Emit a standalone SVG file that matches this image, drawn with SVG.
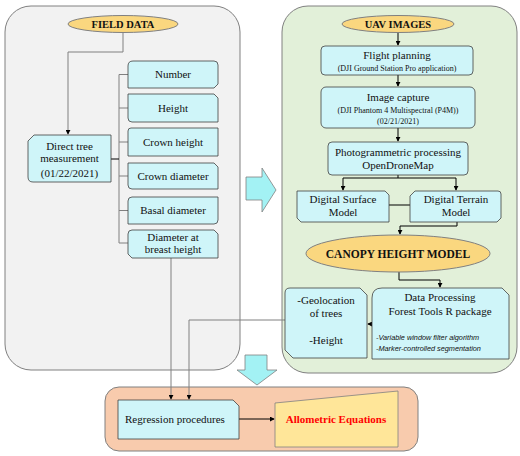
<svg xmlns="http://www.w3.org/2000/svg" width="520" height="456" viewBox="0 0 520 456">
<defs>
<marker id="ah" viewBox="0 0 6 6" refX="5" refY="3" markerWidth="5" markerHeight="5" orient="auto"><path d="M0,0 L6,3 L0,6 z" fill="#000"/></marker>
<style>
.panel{stroke:#808080;stroke-width:1}
.box{fill:#CFF5F9;stroke:#404040;stroke-width:0.8}
.ell{fill:#FAD77F;stroke:#808080;stroke-width:1}
.blk{fill:#A3F2F4;stroke:#808080;stroke-width:0.8}
.ln{fill:none;stroke:#808080;stroke-width:1}
.lk{fill:none;stroke:#000;stroke-width:1}
text{fill:#111;text-anchor:middle}
.t{font-size:11px}
.s{font-size:8px}
.b{font-weight:bold}
.i{font-style:italic;font-size:7.3px;text-anchor:start}
</style>
</defs>
<rect x="5" y="6" width="235" height="364" rx="26" class="panel" fill="#F2F2F2"/>
<rect x="282" y="6" width="235" height="367" rx="26" class="panel" fill="#E2F0D9"/>
<rect x="105" y="387" width="313" height="64" rx="14" class="panel" fill="#F8CBAD"/>
<path class="blk" d="M246,177 L262,177 L262,168 L276,190 L262,212 L262,200 L246,200 Z"/>
<path class="blk" d="M245,355 L267,355 L267,370 L277,370 L257,385 L237,370 L245,370 Z"/>
<g id="connectors">
<path class="ln" d="M123,33 V52 H68 V134" marker-end="url(#ah)"/>
<path class="ln" d="M119,74.5 V243 M119,74.5 H128 M119,108 H128 M119,142 H128 M119,176 H128 M119,210.5 H128 M119,243 H128"/>
<path class="lk" d="M111,159 H119"/>
<path class="ln" d="M171,258 V399" marker-end="url(#ah)"/>
<path class="ln" d="M285,320 H189 V399" marker-end="url(#ah)"/>
<path class="lk" d="M398,33 V45" marker-end="url(#ah)"/>
<path class="lk" d="M398,75 V86" marker-end="url(#ah)"/>
<path class="lk" d="M398,128 V141" marker-end="url(#ah)"/>
<path class="lk" d="M398,175 V178 M343,178 H456"/>
<path class="lk" d="M343,178 V190" marker-end="url(#ah)"/>
<path class="lk" d="M456,178 V190" marker-end="url(#ah)"/>
<path class="lk" stroke-width="1.3" d="M389,205 H410"/>
<path class="lk" d="M457,222 V226 H400 V234" marker-end="url(#ah)"/>
<path class="lk" d="M399,272 V280 H440 V287" marker-end="url(#ah)"/>
<path class="lk" d="M372,324 H368" marker-end="url(#ah)"/>
<path class="lk" d="M239,419 H274" marker-end="url(#ah)"/>
</g>
<g font-family="Liberation Serif, Times New Roman, serif">
<g id="field-data"><ellipse cx="123" cy="24" rx="55" ry="8.5" class="ell"/><text x="123" y="27.5" class="b" font-size="10.5">FIELD DATA</text></g>
<g id="direct-tree"><path class="box" d="M34,135 H111 V182 H33 Q28,182 28,177 V141 Z"/><text x="69.5" y="150" class="t">Direct tree</text><text x="69.5" y="162" class="t">measurement</text><text x="69.5" y="177" class="t">(01/22/2021)</text></g>
<g id="number"><path class="box" d="M133,61 H214 Q218,61 218,65 V84 L214,88 H128 V66 Q128,61 133,61 Z"/><text x="173" y="78" class="t">Number</text></g>
<g id="height"><path class="box" d="M128,94 H214 L218,98 V122 H132 Q128,122 128,118 Z"/><text x="173" y="111.5" class="t">Height</text></g>
<g id="crown-height"><path class="box" d="M131,128 H218 V156 H128 V131 Q128,128 131,128 Z"/><text x="173" y="145.5" class="t">Crown height</text></g>
<g id="crown-diameter"><path class="box" d="M128,163 H214 L218,167 V189 H132 Q128,189 128,185 Z"/><text x="173" y="179.5" class="t">Crown diameter</text></g>
<g id="basal-diameter"><path class="box" d="M132,197 H218 V220 Q218,224 214,224 H128 V201 Q128,197 132,197 Z"/><text x="173" y="214" class="t">Basal diameter</text></g>
<g id="dbh"><path class="box" d="M132,230 H214 L218,234 V258 H132 L128,254 V234 Q128,230 132,230 Z"/><text x="173" y="241" class="t">Diameter at</text><text x="173" y="253" class="t">breast height</text></g>
<g id="uav-images"><ellipse cx="398" cy="24" rx="56" ry="8.5" class="ell"/><text x="398" y="27.5" class="b" font-size="10.5">UAV IMAGES</text></g>
<g id="flight-planning"><rect x="321" y="46" width="152" height="29" rx="4" class="box"/><text x="397" y="59" class="t">Flight planning</text><text x="397" y="71" class="s">(DJI Ground Station Pro application)</text></g>
<g id="image-capture"><rect x="321" y="87" width="154" height="41" rx="5" class="box"/><text x="398" y="101" class="t">Image  capture</text><text x="398" y="113" class="s">(DJI Phantom 4 Multispectral (P4M))</text><text x="398" y="124" class="s">(02/21/2021)</text></g>
<g id="photogrammetric"><rect x="328" y="142" width="140" height="33" rx="4" class="box"/><text x="398" y="156" class="t">Photogrammetric  processing</text><text x="398" y="169" class="t">OpenDroneMap</text></g>
<g id="dsm"><path class="box" d="M297,191 H385 L389,195 V222 H301 L297,218 Z"/><text x="343" y="203" class="t">Digital Surface</text><text x="343" y="216" class="t">Model</text></g>
<g id="dtm"><path class="box" d="M415,191 H498 Q501,191 501,194 V218 L497,222 H410 V196 Z"/><text x="456" y="203" class="t">Digital Terrain</text><text x="456" y="216" class="t">Model</text></g>
<g id="chm"><ellipse cx="398" cy="253.5" rx="92" ry="18.5" class="ell"/><text x="398" y="257.5" class="b" font-size="11.5">CANOPY HEIGHT  MODEL</text></g>
<g id="geolocation"><path class="box" d="M290,288 H360 L367,295 V358 H293 L285,350 V293 Q285,288 290,288 Z"/><text x="326" y="304" class="t">-Geolocation</text><text x="326" y="317" class="t">of trees</text><text x="326" y="344" class="t">-Height</text></g>
<g id="data-processing"><path class="box" d="M382,288 H502 L509,295 V359 H372 V298 Q372,288 382,288 Z"/><text x="440" y="301" class="t">Data Processing</text><text x="440" y="315" class="t">Forest Tools R package</text><text x="376" y="340" class="i" font-family="Liberation Sans, Arial, sans-serif">-Variable window filter algorithm</text><text x="376" y="351" class="i" font-family="Liberation Sans, Arial, sans-serif">-Marker-controlled segmentation</text></g>
<g id="regression"><path class="box" d="M118,400 H233 L239,406 V439 H118 Z"/><text x="125" y="423" class="t" style="text-anchor:start">Regression  procedures</text></g>
<g id="allometric"><path d="M275,403 L398,391 V447 H275 Z" fill="#FFE699" stroke="#808080" stroke-width="0.8"/><text x="336" y="423" class="b" font-size="11" style="fill:#FF0000">Allometric  Equations</text></g>
</g>
</svg>
